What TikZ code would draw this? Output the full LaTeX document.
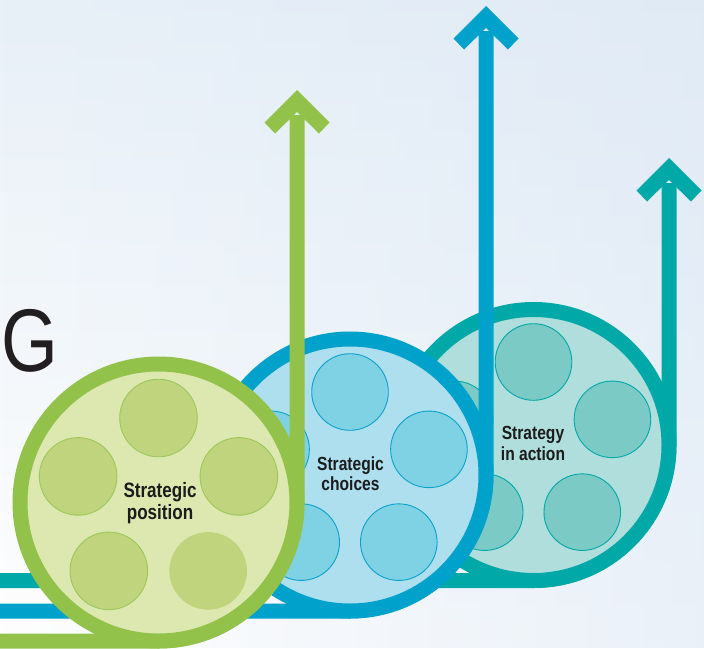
\documentclass[tikz,border=0pt]{standalone}
\usepackage{fontspec}
\setmainfont{Liberation Sans}
\newfontfamily\labelfont[FakeStretch=0.82]{Liberation Sans}
\newfontfamily\bigfont[FakeStretch=0.82]{Liberation Sans}
\usetikzlibrary{fadings}
\definecolor{bgA}{HTML}{D6E5F3}
\definecolor{bgB}{HTML}{DAE6F4}
\definecolor{grRing}{HTML}{93C24B}
\definecolor{grFill}{HTML}{DCE8B0}
\definecolor{grHub}{HTML}{BFD47C}
\definecolor{grHubL}{HTML}{9CC85A}
\definecolor{blRing}{HTML}{00A2CB}
\definecolor{blFill}{HTML}{AEDFEE}
\definecolor{blHub}{HTML}{7FD2E4}
\definecolor{blHubL}{HTML}{0AA2CB}
\definecolor{tlRing}{HTML}{00A8A8}
\definecolor{tlFill}{HTML}{B0DEDC}
\definecolor{tlHub}{HTML}{7BCAC5}
\definecolor{tlHubL}{HTML}{00A8A8}
\definecolor{labelcol}{HTML}{1C1C1C}
\definecolor{bigcol}{HTML}{231F20}
\tikzfading[name=fadetop, top color=transparent!45, middle color=transparent!100, bottom color=transparent!100]
\tikzfading[name=faderight, left color=transparent!100, middle color=transparent!100, right color=transparent!45]
\begin{document}
\begin{tikzpicture}[x=1pt,y=-1pt,
  ring/.style={line width=15pt},
  tape/.style={line width=15pt, line cap=butt},
  hub/.style={line width=0.9pt},
  lbl/.style={text=labelcol, inner sep=0pt, anchor=base},
  pics/chevhead/.style={code={\fill (0,0) -- (-32.5,32.5) -- (-22,43.5) -- (0,22) -- (22,43.5) -- (32.5,32.5) -- cycle;}}
]
\useasboundingbox (0,0) rectangle (704,648);
\fill[white] (0,0) rectangle (704,648);
\fill[bgA, path fading=fadetop] (0,0) rectangle (704,648);
\fill[bgB, path fading=faderight] (0,0) rectangle (704,648);

% big letter
\node[bigcol, inner sep=0pt, anchor=base west, font=\bigfont\fontsize{89}{89}\selectfont] (bigG) at (1.5,371.2) {G};

% ---- teal reel (Strategy in action)
\coordinate (tlS) at (-5,580.5);
\coordinate (tlC) at (533.5,445);
\coordinate (tlTip) at (669,158);
\draw[tape, tlRing] (tlS) -- (533.5,580.5) arc[start angle=90, end angle=0, radius=135.5] -- (669,183);
\pic[tlRing] at (tlTip) {chevhead};
\draw[ring, draw=tlRing, fill=tlFill] (tlC) circle[radius=135.5];
\foreach \a in {-90,-18,54,126,198}
  \draw[hub, draw=tlHubL, fill=tlHub] (tlC) ++(\a:83) circle[radius=38.3];
\node[lbl, font=\labelfont\bfseries\fontsize{19}{19}\selectfont] (tl1) at (533,439) {Strategy};
\node[lbl, font=\labelfont\bfseries\fontsize{19}{19}\selectfont] (tl2) at (533,460) {in action};

% ---- blue reel (Strategic choices)
\coordinate (blS) at (-5,611);
\coordinate (blC) at (350,475);
\coordinate (blTip) at (486,6);
\draw[tape, blRing] (blS) -- (350,611) arc[start angle=90, end angle=0, radius=136] -- (486,31);
\pic[blRing] at (blTip) {chevhead};
\draw[ring, draw=blRing, fill=blFill] (blC) circle[radius=136];
\foreach \a in {-90,-18,54,126,198}
  \draw[hub, draw=blHubL, fill=blHub] (blC) ++(\a:83) circle[radius=38.3];
\node[lbl, font=\labelfont\bfseries\fontsize{19}{19}\selectfont] (bl1) at (350.5,470) {Strategic};
\node[lbl, font=\labelfont\bfseries\fontsize{19}{19}\selectfont] (bl2) at (350.5,490) {choices};

% ---- green reel (Strategic position)
\coordinate (grS) at (-5,641);
\coordinate (grC) at (158.5,502.5);
\coordinate (grTip) at (297,90);
\draw[tape, grRing] (grS) -- (158.5,641) arc[start angle=90, end angle=0, radius=138.5] -- (297,115);
\pic[grRing] at (grTip) {chevhead};
\draw[ring, draw=grRing, fill=grFill] (grC) circle[radius=138.5];
\foreach \a in {-90,-18,126,198}
  \draw[hub, draw=grHubL, fill=grHub] (grC) ++(\a:84.5) circle[radius=38.8];
\fill[grHub] (grC) ++(54:84.5) circle[radius=38.8];
\node[lbl, font=\labelfont\bfseries\fontsize{20.8}{20.8}\selectfont] (gr1) at (160,497.5) {Strategic};
\node[lbl, font=\labelfont\bfseries\fontsize{20.8}{20.8}\selectfont] (gr2) at (160,519.5) {position};
\end{tikzpicture}
\end{document}
